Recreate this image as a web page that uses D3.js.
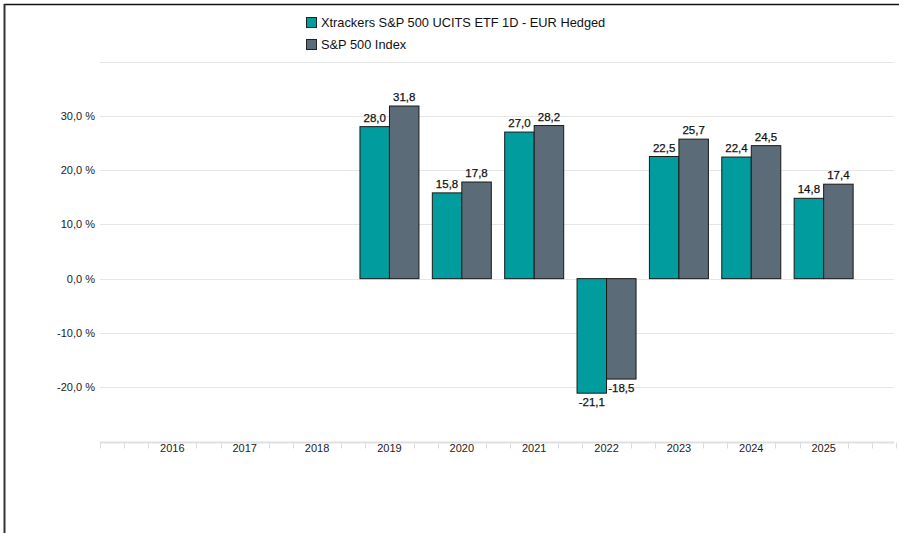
<!DOCTYPE html>
<html>
<head>
<meta charset="utf-8">
<script src="https://cdn.jsdelivr.net/npm/d3@7"></script>
<style>
  html, body { margin: 0; padding: 0; background: #fff; }
  svg { display: block; font-family: "Liberation Sans", Arial, Helvetica, sans-serif; }
</style>
</head>
<body>
<div id="chart"></div>
<script>
var W = 899, H = 533;

// data
var years = ["2016", "2017", "2018", "2019", "2020", "2021", "2022", "2023", "2024", "2025"];
var fundName = "Xtrackers S&P 500 UCITS ETF 1D - EUR Hedged";
var indexName = "S&P 500 Index";
var fundValues = [null, null, null, 28.0, 15.8, 27.0, -21.1, 22.5, 22.4, 14.8];
var indexValues = [null, null, null, 31.8, 17.8, 28.2, -18.5, 25.7, 24.5, 17.4];
var yTicks = [40, 30, 20, 10, 0, -10, -20, -30];
var yLabelTicks = [30, 20, 10, 0, -10, -20];

var teal = "#009c9e";
var slate = "#5b6b77";

var svg = d3.select("#chart").append("svg")
	.attr("width", W)
	.attr("height", H);

// frame
svg.append("line").attr("x1", 4).attr("x2", W).attr("y1", 4.5).attr("y2", 4.5)
	.attr("stroke", "#111").attr("stroke-width", 1.5);
svg.append("line").attr("x1", 4.5).attr("x2", 4.5).attr("y1", 4).attr("y2", H)
	.attr("stroke", "#333").attr("stroke-width", 2);

var x = d3.scalePoint()
	.domain(years)
	.range([100, 896])
	.padding(1);
var step = x.step();
var barW = 29.5;

var y = d3.scaleLinear()
	.domain([-30, 40])
	.range([441.5, 61.5]);

var fmt = v => v.toFixed(1).replace(".", ",");

// gridlines
svg.append("g").selectAll("line")
	.data(yTicks.filter(d => d > -30))
	.enter()
	.append("line")
	.attr("x1", 100)
	.attr("x2", 894)
	.attr("y1", d => Math.round(y(d)) + 0.5)
	.attr("y2", d => Math.round(y(d)) + 0.5)
	.attr("stroke", "#e6e6e6")
	.attr("stroke-width", 1);

// y labels
svg.append("g").selectAll("text")
	.data(yLabelTicks)
	.enter()
	.append("text")
	.attr("x", 95)
	.attr("y", d => y(d) + 4)
	.attr("text-anchor", "end")
	.style("font-size", "11px")
	.attr("fill", "#222")
	.text(d => fmt(d) + " %");

// x axis line + ticks
var axisY = Math.round(y(-30)) + 0.5;
svg.append("line")
	.attr("x1", 100).attr("x2", 894)
	.attr("y1", axisY).attr("y2", axisY)
	.attr("stroke", "#e0e0e0").attr("stroke-width", 2);

var tickXs = [];
for (var i = 0; i <= 33; i++) {
	if (i % 3 === 0 && i > 0 && i < 33) continue; // label positions
	tickXs.push(100 + i * step / 3);
}
svg.append("g").selectAll("line")
	.data(tickXs)
	.enter()
	.append("line")
	.attr("x1", d => Math.round(d) + 0.5)
	.attr("x2", d => Math.round(d) + 0.5)
	.attr("y1", axisY)
	.attr("y2", axisY + 6)
	.attr("stroke", "#dcdcdc");

svg.append("g").selectAll("text")
	.data(years)
	.enter()
	.append("text")
	.attr("x", d => x(d))
	.attr("y", 452)
	.attr("text-anchor", "middle")
	.style("font-size", "11px")
	.attr("fill", "#222")
	.text(d => d);

// bars
var series = [
	{ values: fundValues, color: teal, offset: -barW },
	{ values: indexValues, color: slate, offset: 0 }
];

series.forEach(function(s) {
	var pts = years.map((yr, i) => ({ yr: yr, v: s.values[i] })).filter(d => d.v !== null);
	var g = svg.append("g");
	g.selectAll("rect")
		.data(pts)
		.enter()
		.append("rect")
		.attr("x", d => x(d.yr) + s.offset)
		.attr("width", barW)
		.attr("y", d => Math.min(y(d.v), y(0)))
		.attr("height", d => Math.abs(y(d.v) - y(0)))
		.attr("fill", s.color)
		.attr("stroke", "#1a1a1a")
		.attr("stroke-width", 1);
	g.selectAll("text")
		.data(pts)
		.enter()
		.append("text")
		.attr("x", d => x(d.yr) + s.offset + barW / 2)
		.attr("y", d => d.v >= 0 ? y(d.v) - 5 : y(d.v) + 13)
		.attr("text-anchor", "middle")
		.style("font-size", "11.5px")
		.attr("fill", "#111")
		.attr("stroke", "#111")
		.attr("stroke-width", 0.25)
		.text(d => fmt(d.v));
});

// legend
var legend = svg.append("g").attr("transform", "translate(306,17)");
[[fundName, teal], [indexName, slate]].forEach(function(d, i) {
	legend.append("rect")
		.attr("x", 0.5)
		.attr("y", i * 22 + 0.5)
		.attr("width", 10)
		.attr("height", 10)
		.attr("fill", d[1])
		.attr("stroke", "#222");
	legend.append("text")
		.attr("x", 15)
		.attr("y", i * 22 + 10)
		.style("font-size", "12.8px")
		.attr("fill", "#111")
		.text(d[0]);
});
</script>
</body>
</html>
